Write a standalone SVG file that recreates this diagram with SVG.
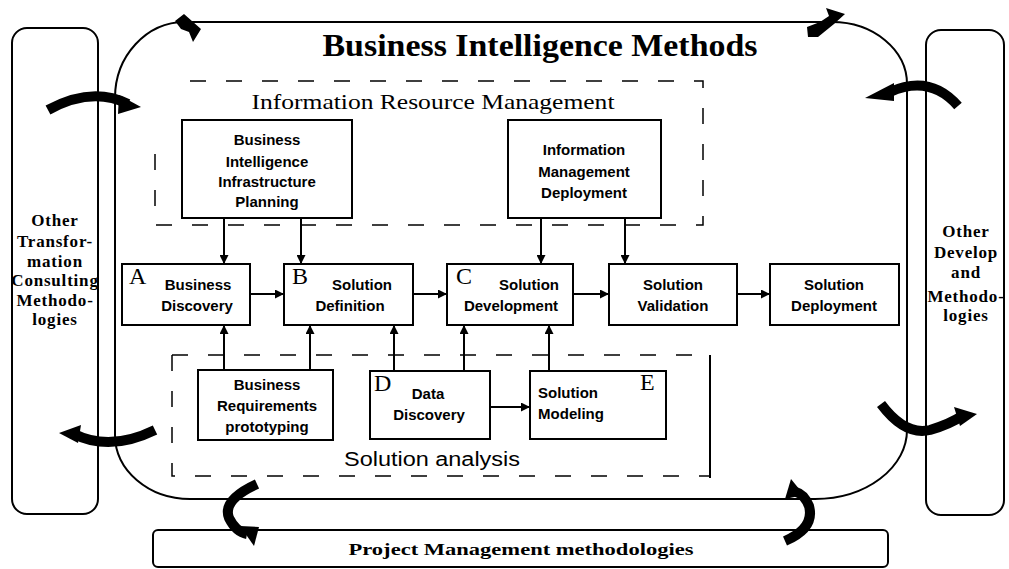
<svg xmlns="http://www.w3.org/2000/svg" width="1009" height="569" viewBox="0 0 1009 569">
  <defs>
    <marker id="ah" viewBox="0 0 10 10" refX="10" refY="5" markerWidth="9" markerHeight="9" markerUnits="userSpaceOnUse" orient="auto">
      <path d="M0,0 L10,5 L0,10 Z" fill="#000"/>
    </marker>
    <style>
      .box { fill: #fff; stroke: #000; stroke-width: 2; }
      .line { fill: none; stroke: #000; stroke-width: 2; }
      .dash { fill: none; stroke: #000; stroke-width: 1.5; stroke-dasharray: 16 20; }
      .conn { fill: none; stroke: #000; stroke-width: 2; marker-end: url(#ah); }
      .cyc { fill: none; stroke: #000; stroke-width: 10; stroke-linecap: butt; }
      .head { fill: #000; }
      .lbl { font-family: "Liberation Sans", Arial, sans-serif; font-weight: bold; font-size: 15px; text-anchor: middle; fill: #000; }
      .side { font-family: "Liberation Serif", "Times New Roman", serif; font-weight: bold; font-size: 17px; text-anchor: middle; fill: #000; letter-spacing: 0.8px; }
      .ltr { font-family: "Liberation Serif", "Times New Roman", serif; font-size: 24px; fill: #000; }
    </style>
  </defs>

  <rect width="1009" height="569" fill="#fff"/>

  <!-- side panels -->
  <g id="left-panel">
    <rect x="12" y="28" width="86" height="486" rx="15" class="line"/>
    <text class="side" x="55" y="226">Other</text>
    <text class="side" x="55" y="247">Transfor-</text>
    <text class="side" x="55" y="267">mation</text>
    <text class="side" x="55" y="286">Consulting</text>
    <text class="side" x="55" y="306">Methodo-</text>
    <text class="side" x="55" y="325">logies</text>
  </g>
  <g id="right-panel">
    <rect x="926" y="30" width="78" height="485" rx="15" class="line"/>
    <text class="side" x="966" y="237">Other</text>
    <text class="side" x="966" y="258">Develop</text>
    <text class="side" x="966" y="278">and</text>
    <text class="side" x="966" y="302">Methodo-</text>
    <text class="side" x="966" y="321">logies</text>
  </g>

  <!-- outer methods frame -->
  <g id="methods-frame">
    <path class="line" d="M115,435 L115,98 A70,76 0 0 1 185,22 L832,22 A75,62 0 0 1 907,84 L907,430 A92,69 0 0 1 815,499 L190,499 A75,64 0 0 1 115,435 Z"/>
    <text x="540" y="56" font-family="Liberation Serif, 'Times New Roman', serif" font-weight="bold" font-size="31" text-anchor="middle" textLength="435" lengthAdjust="spacingAndGlyphs">Business Intelligence Methods</text>
  </g>

  <!-- information resource management zone -->
  <g id="irm-zone">
    <path class="dash" d="M190,81 L703,81 L703,225 L155,225 L155,140"/>
    <text x="433" y="109" font-family="Liberation Serif, 'Times New Roman', serif" font-size="21" text-anchor="middle" textLength="363" lengthAdjust="spacingAndGlyphs">Information Resource Management</text>
  </g>

  <!-- solution analysis zone -->
  <g id="analysis-zone">
    <path class="dash" d="M172,355 L710,355 M172,355 L172,476 L710,476"/>
    <path class="line" d="M710,355 L710,478" stroke-width="1.5"/>
    <text x="432" y="466" font-family="Liberation Sans, Arial, sans-serif" font-size="20" text-anchor="middle" textLength="176" lengthAdjust="spacingAndGlyphs">Solution analysis</text>
  </g>

  <g id="bi-planning">
    <rect x="182" y="120" width="170" height="98" class="box"/>
    <text class="lbl" x="267" y="145">Business</text>
    <text class="lbl" x="267" y="167">Intelligence</text>
    <text class="lbl" x="267" y="187">Infrastructure</text>
    <text class="lbl" x="267" y="207">Planning</text>
  </g>
  <g id="im-deployment">
    <rect x="508" y="120" width="153" height="98" class="box"/>
    <text class="lbl" x="584" y="155">Information</text>
    <text class="lbl" x="584" y="177">Management</text>
    <text class="lbl" x="584" y="198">Deployment</text>
  </g>

  <g id="node-a">
    <rect x="122" y="264" width="128" height="61" class="box"/>
    <text class="ltr" x="129" y="284">A</text>
    <text class="lbl" x="198" y="290">Business</text>
    <text class="lbl" x="197" y="311">Discovery</text>
  </g>
  <g id="node-b">
    <rect x="284" y="264" width="129" height="61" class="box"/>
    <text class="ltr" x="292" y="284">B</text>
    <text class="lbl" x="362" y="290">Solution</text>
    <text class="lbl" x="350" y="311">Definition</text>
  </g>
  <g id="node-c">
    <rect x="447" y="264" width="126" height="61" class="box"/>
    <text class="ltr" x="456" y="284">C</text>
    <text class="lbl" x="529" y="290">Solution</text>
    <text class="lbl" x="511" y="311">Development</text>
  </g>
  <g id="node-validation">
    <rect x="609" y="264" width="128" height="61" class="box"/>
    <text class="lbl" x="673" y="290">Solution</text>
    <text class="lbl" x="673" y="311">Validation</text>
  </g>
  <g id="node-deployment">
    <rect x="770" y="264" width="129" height="61" class="box"/>
    <text class="lbl" x="834" y="290">Solution</text>
    <text class="lbl" x="834" y="311">Deployment</text>
  </g>

  <g id="node-requirements">
    <rect x="198" y="370" width="135" height="70" class="box"/>
    <text class="lbl" x="267" y="390">Business</text>
    <text class="lbl" x="267" y="411">Requirements</text>
    <text class="lbl" x="267" y="432">prototyping</text>
  </g>
  <g id="node-d">
    <rect x="370" y="371" width="120" height="68" class="box"/>
    <text class="ltr" x="374" y="391">D</text>
    <text class="lbl" x="428" y="399">Data</text>
    <text class="lbl" x="429" y="420">Discovery</text>
  </g>
  <g id="node-e">
    <rect x="530" y="371" width="136" height="68" class="box"/>
    <text class="ltr" x="640" y="390">E</text>
    <text class="lbl" x="568" y="398">Solution</text>
    <text class="lbl" x="571" y="419">Modeling</text>
  </g>

  <g id="project-management">
    <rect x="153" y="530" width="735" height="37" rx="5" class="line"/>
    <text x="521" y="555" font-family="Liberation Serif, 'Times New Roman', serif" font-weight="bold" font-size="17" text-anchor="middle" textLength="345" lengthAdjust="spacingAndGlyphs">Project Management methodologies</text>
  </g>

  <!-- process connectors -->
  <g id="connectors">
    <path class="conn" d="M250,294 L284,294"/>
    <path class="conn" d="M413,294 L447,294"/>
    <path class="conn" d="M573,294 L609,294"/>
    <path class="conn" d="M737,294 L770,294"/>
    <path class="conn" d="M224,218 L224,264"/>
    <path class="conn" d="M301,218 L301,264"/>
    <path class="conn" d="M541,218 L541,264"/>
    <path class="conn" d="M625,218 L625,264"/>
    <path class="conn" d="M224,370 L224,325"/>
    <path class="conn" d="M310,370 L310,325"/>
    <path class="conn" d="M394,371 L394,325"/>
    <path class="conn" d="M464,371 L464,325"/>
    <path class="conn" d="M549,371 L549,325"/>
    <path class="conn" d="M490,407 L530,407"/>
  </g>

  <!-- cycle arrows around the frame -->
  <g id="cycle-arrows">
    <!-- top left -->
    <path class="head" d="M175,21 L184,14 L201,29 L193,42 L189,32 L181,29 Z"/>
    <!-- left panel, upper -->
    <path class="cyc" d="M48,110 Q92,86 128,104"/>
    <path class="head" d="M119,95 L141,107 L118,114 Z"/>
    <!-- left panel, lower -->
    <path class="cyc" d="M155,430 Q110,452 74,434"/>
    <path class="head" d="M81,425 L59,433 L78,443 Z"/>
    <!-- bottom left -->
    <path class="cyc" d="M257,484 Q222,500 229,518 Q236,532 247,534"/>
    <path class="head" d="M240,526 L254,546 L259,527 Z"/>
    <!-- bottom right -->
    <path class="cyc" d="M785,541 Q815,528 809,506 Q804,494 796,492"/>
    <path class="head" d="M785,499 L791,479 L804,495 Z"/>
    <!-- right panel, lower -->
    <path class="cyc" d="M881,404 Q905,436 930,430 Q950,424 962,416"/>
    <path class="head" d="M954,407 L977,414 L960,426 Z"/>
    <!-- right panel, upper -->
    <path class="cyc" d="M958,106 Q930,74 890,92"/>
    <path class="head" d="M894,83 L865,98 L894,101 Z"/>
    <!-- top right -->
    <path class="head" d="M807,27 L820,22 L829,16 L826,8 L845,14 L834,24 L818,37 L808,37 Z"/>
  </g>
</svg>
